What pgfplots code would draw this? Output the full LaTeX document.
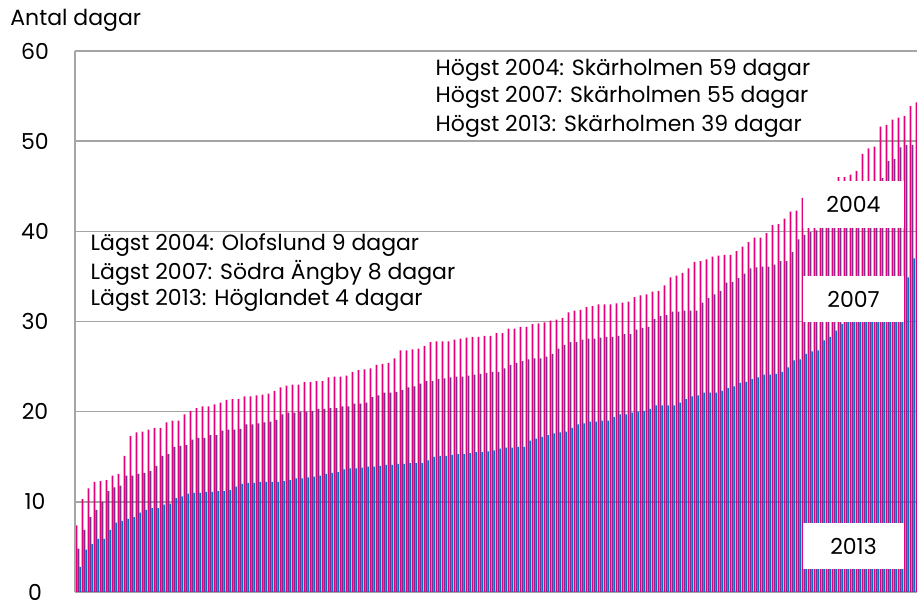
\documentclass[border=0pt]{standalone}
\usepackage{fontspec}
\setmainfont{Poppins}
\usepackage{pgfplots}
\pgfplotsset{compat=1.18}
\usepackage{pgfplotstable}
\definecolor{cpink}{RGB}{228,0,120}
\definecolor{cpurple}{RGB}{125,45,140}
\definecolor{cblue}{RGB}{0,115,200}
\definecolor{cgrid}{RGB}{165,165,165}
\pgfplotstableread{
k a b c
0 7.4 4.8 2.8
1 10.3 6.9 4.7
2 11.5 8.3 5.3
3 12.2 9.1 5.9
4 12.3 10.0 5.9
5 12.4 11.2 6.9
6 12.9 11.6 7.7
7 13.1 11.8 7.9
8 15.1 12.9 8.1
9 17.3 12.9 8.3
10 17.7 13.1 8.8
11 17.8 13.2 9.1
12 18.0 13.4 9.3
13 18.2 14.0 9.3
14 18.2 15.1 9.7
15 18.8 15.3 9.8
16 19.0 16.1 10.4
17 19.0 16.2 10.6
18 19.7 16.3 10.9
19 20.1 16.9 11.0
20 20.4 17.1 11.0
21 20.6 17.1 11.1
22 20.6 17.4 11.1
23 20.8 17.4 11.2
24 21.0 17.9 11.2
25 21.3 18.0 11.3
26 21.4 18.0 11.7
27 21.4 18.1 12.0
28 21.7 18.6 12.1
29 21.7 18.6 12.1
30 21.8 18.7 12.2
31 21.9 18.8 12.2
32 22.0 18.9 12.2
33 22.3 19.1 12.2
34 22.7 19.7 12.3
35 22.9 19.9 12.4
36 23.0 19.9 12.6
37 23.0 20.0 12.6
38 23.3 20.0 12.7
39 23.3 20.1 12.8
40 23.4 20.3 12.9
41 23.4 20.3 13.1
42 23.8 20.4 13.2
43 23.9 20.4 13.3
44 23.9 20.6 13.6
45 24.0 20.6 13.7
46 24.4 20.9 13.7
47 24.6 20.9 13.8
48 24.7 21.0 13.9
49 24.8 21.6 13.9
50 25.2 21.8 14.0
51 25.3 22.1 14.1
52 25.4 22.1 14.1
53 25.9 22.2 14.2
54 26.8 22.4 14.2
55 26.8 22.7 14.3
56 26.9 22.8 14.3
57 27.0 23.1 14.3
58 27.3 23.4 14.6
59 27.7 23.4 15.0
60 27.8 23.6 15.1
61 27.8 23.7 15.1
62 27.8 23.8 15.2
63 28.0 23.9 15.3
64 28.1 23.9 15.3
65 28.2 24.0 15.4
66 28.3 24.1 15.5
67 28.3 24.2 15.5
68 28.4 24.3 15.6
69 28.4 24.4 15.7
70 28.7 24.4 15.9
71 28.7 24.8 16.0
72 29.2 25.2 16.0
73 29.2 25.4 16.1
74 29.4 25.6 16.1
75 29.4 25.8 16.8
76 29.7 25.9 17.0
77 29.8 25.9 17.2
78 29.9 26.1 17.4
79 30.1 26.4 17.6
80 30.2 27.0 17.7
81 30.4 27.4 17.8
82 31.0 27.7 18.2
83 31.2 27.7 18.6
84 31.3 28.0 18.7
85 31.6 28.1 18.9
86 31.7 28.1 18.9
87 31.9 28.2 19.0
88 31.9 28.3 19.0
89 31.9 28.3 19.4
90 32.0 28.4 19.7
91 32.1 28.6 19.7
92 32.2 28.6 19.9
93 32.7 29.1 20.0
94 32.9 29.3 20.1
95 33.0 29.4 20.3
96 33.3 30.3 20.7
97 33.4 30.6 20.7
98 34.0 30.7 20.7
99 34.9 31.1 20.7
100 35.1 31.1 21.0
101 35.4 31.2 21.4
102 35.9 31.2 21.7
103 36.6 31.2 21.8
104 36.7 32.1 22.1
105 36.9 32.6 22.1
106 37.2 33.0 22.1
107 37.3 33.4 22.3
108 37.4 34.3 22.6
109 37.4 34.4 22.8
110 37.8 34.8 23.2
111 38.3 35.3 23.3
112 38.8 35.9 23.6
113 39.3 36.0 23.8
114 39.3 36.1 24.1
115 39.8 36.1 24.1
116 40.7 36.3 24.2
117 40.8 36.7 24.4
118 41.4 36.7 24.9
119 42.2 37.7 25.7
120 42.3 39.1 25.8
121 43.7 39.6 26.4
122 44.0 39.9 26.7
123 44.3 40.1 26.8
124 44.6 40.5 27.9
125 45.0 40.8 28.3
126 45.3 41.2 29.0
127 46.0 41.6 29.7
128 46.0 42.0 30.2
129 46.3 42.5 30.6
130 46.7 43.0 31.0
131 48.6 43.6 31.4
132 49.2 44.2 31.8
133 49.4 45.0 32.3
134 51.6 45.9 32.8
135 51.8 47.8 33.3
136 52.4 48.0 33.8
137 52.6 49.3 34.3
138 52.8 49.6 34.9
139 53.9 49.6 37.0
140 54.3 53.7 39.0
}\datatable
\begin{document}
\begin{tikzpicture}[font=\fontsize{11}{13}\selectfont]
\path[use as bounding box] (-37.5pt,-6.5pt) rectangle (421pt,296pt);
\begin{axis}[
  at={(0,0)}, anchor=south west,
  scale only axis, width=421pt, height=270.5pt,
  xmin=-0.25, xmax=140.083, ymin=0, ymax=60,
  ytick={0,10,...,60}, xtick=\empty,
  ymajorgrids, grid style={line width=0.8pt, cgrid},
  axis line style={draw=none},
  major tick length=0pt,
  yticklabel style={anchor=center, xshift=-20pt, font=\fontsize{11}{13}\selectfont},
  /pgf/number format/assume math mode=true,
  clip=true,
]
\addplot[ybar, bar width=0.9pt, bar shift=0pt, fill=cpink, draw=none] table[x=k, y=a] {\datatable};
\addplot[ybar, bar width=0.9pt, bar shift=0.95pt, fill=cpurple, draw=none] table[x=k, y=b] {\datatable};
\addplot[ybar, bar width=0.75pt, bar shift=1.85pt, fill=cblue, draw=none] table[x=k, y=c] {\datatable};
\fill[white] (axis cs:121.1,40.33) rectangle (axis cs:137.95,45.56);
\fill[white] (axis cs:121.1,29.89) rectangle (axis cs:137.95,35.0);
\fill[white] (axis cs:121.1,2.56) rectangle (axis cs:137.95,7.67);
\node at (axis cs:129.5,42.95) {2004};
\node at (axis cs:129.5,32.45) {2007};
\node at (axis cs:129.5,5.1) {2013};
\node[anchor=west, inner sep=0pt] at (axis cs:59.8,57.9) {Högst 2004: Skärholmen 59 dagar};
\node[anchor=west, inner sep=0pt] at (axis cs:59.8,54.9) {Högst 2007: Skärholmen 55 dagar};
\node[anchor=west, inner sep=0pt] at (axis cs:59.8,51.6) {Högst 2013: Skärholmen 39 dagar};
\node[anchor=west, inner sep=0pt] at (axis cs:2.3,38.5) {Lägst 2004: Olofslund 9 dagar};
\node[anchor=west, inner sep=0pt] at (axis cs:2.3,35.4) {Lägst 2007: Södra Ängby 8 dagar};
\node[anchor=west, inner sep=0pt] at (axis cs:2.3,32.3) {Lägst 2013: Höglandet 4 dagar};
\end{axis}
\draw[cgrid, line width=0.8pt] (0,0) -- (0,270.5pt);
\node[anchor=west, inner sep=0pt] at (-32.5pt,286pt) {Antal dagar};
\end{tikzpicture}
\end{document}
